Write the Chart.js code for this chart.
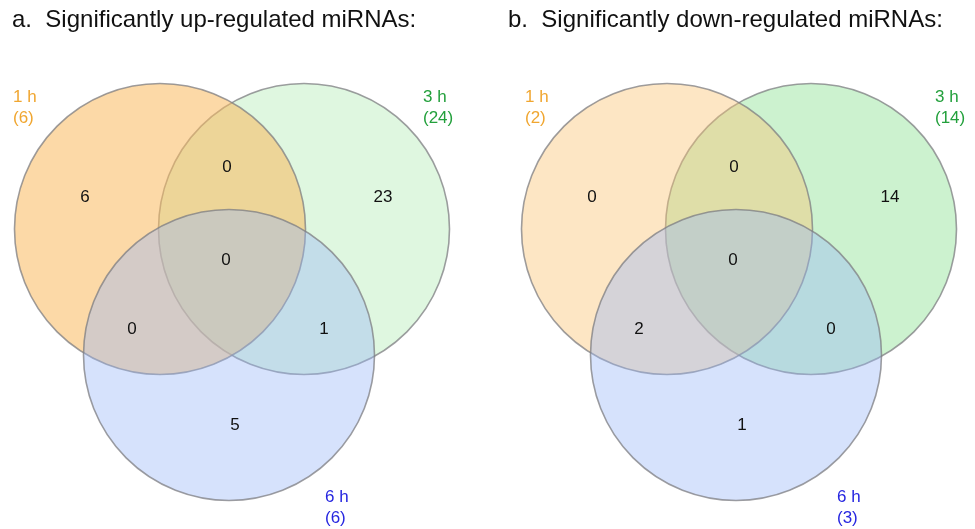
<!DOCTYPE html>
<html>
<head>
<meta charset="utf-8">
<title>Significantly regulated miRNAs</title>
<script src="https://cdn.jsdelivr.net/npm/chart.js@4"></script>
<style>
  html, body { margin: 0; padding: 0; background: #ffffff; }
  #wrap { position: relative; width: 975px; height: 529px; }
</style>
</head>
<body>
<div id="wrap"><canvas id="venn"></canvas></div>
<script>
// Time points compared in both panels
const setNames = ['1 h', '3 h', '6 h'];

// Total miRNAs per time point
const upTotals = [6, 24, 6];
const downTotals = [2, 14, 3];

// Venn regions, in the order their counts are listed
const regionNames = ['1 h only', '1 h & 3 h', '3 h only', '1 h & 3 h & 6 h', '1 h & 6 h', '3 h & 6 h', '6 h only'];
const upCounts = [6, 0, 23, 0, 0, 1, 5];
const downCounts = [0, 0, 14, 0, 2, 0, 1];

// Panel headings
const panelTitles = ['a.  Significantly up-regulated miRNAs:', 'b.  Significantly down-regulated miRNAs:'];

// ---- layout (plot units equal CSS pixels on a 975 x 529 frame) ----
const W = 975, H = 529;
const R = 145.5;
const circleCenters = [[160, 229], [304, 229], [229, 355]];
const drawOrder = [1, 0, 2];            // 3 h first, then 1 h, then 6 h on top
const regionSpots = [[85, 197], [227, 167], [383, 197], [226, 260], [132, 329], [324, 329], [235, 425]];
const setLabelSpots = [[13, 97], [423, 97], [325, 497]];
const panelShift = [0, 507];
const labelShift = [0, 512];
const titleSpots = [[12, 27], [508, 27]];

const setLineColors = ['#f0a630', '#23a03c', '#2626e0'];
// translucent fills per panel, indexed like setNames
const fills = [
  ['rgba(250,186,95,0.55)', 'rgba(127,223,131,0.25)', 'rgba(152,182,247,0.40)'],
  ['rgba(250,195,115,0.42)', 'rgba(128,222,135,0.40)', 'rgba(152,182,247,0.40)']
];
const strokeColor = 'rgba(125,125,130,0.75)';
const FONT = '"Liberation Sans", Arial, Helvetica, sans-serif';

function circleData(p) {
  return drawOrder.map(i => ({ x: circleCenters[i][0] + panelShift[p], y: circleCenters[i][1], r: 1 }));
}

const panels = [
  { totals: upTotals, counts: upCounts },
  { totals: downTotals, counts: downCounts }
];

// Titles, set names with totals, and region counts
const vennText = {
  id: 'vennText',
  afterDatasetsDraw(chart) {
    const { ctx, scales: { x, y } } = chart;
    ctx.save();
    ctx.textBaseline = 'alphabetic';
    panelTitles.forEach((t, p) => {
      ctx.font = '24px ' + FONT;
      ctx.fillStyle = '#111111';
      ctx.textAlign = 'left';
      ctx.fillText(t, x.getPixelForValue(titleSpots[p][0]), y.getPixelForValue(titleSpots[p][1]));
    });
    ctx.textBaseline = 'middle';
    panels.forEach((panel, p) => {
      ctx.font = '17px ' + FONT;
      setNames.forEach((name, i) => {
        const [lx, ly] = setLabelSpots[i];
        ctx.fillStyle = setLineColors[i];
        ctx.textAlign = 'left';
        const px = x.getPixelForValue(lx + labelShift[p]);
        ctx.fillText(name, px, y.getPixelForValue(ly));
        ctx.fillText('(' + panel.totals[i] + ')', px, y.getPixelForValue(ly + 21));
      });
      ctx.fillStyle = '#111111';
      ctx.textAlign = 'center';
      panel.counts.forEach((c, k) => {
        const [rx, ry] = regionSpots[k];
        ctx.fillText(String(c), x.getPixelForValue(rx + panelShift[p]), y.getPixelForValue(ry));
      });
    });
    ctx.restore();
  }
};

const chart = new Chart(document.getElementById('venn'), {
  type: 'bubble',
  data: {
    datasets: panels.map((panel, p) => ({
      label: panelTitles[p],
      data: circleData(p),
      backgroundColor: drawOrder.map(i => fills[p][i]),
      borderColor: strokeColor,
      borderWidth: 1.6,
      hoverRadius: 0,
      clip: false
    }))
  },
  options: {
    responsive: true,
    maintainAspectRatio: false,
    animation: false,
    events: [],
    layout: { padding: 0, autoPadding: false },
    scales: {
      x: { type: 'linear', min: 0, max: W, display: false },
      y: { type: 'linear', min: 0, max: H, reverse: true, display: false }
    },
    plugins: {
      legend: { display: false },
      title: { display: false },
      tooltip: { enabled: false }
    }
  },
  plugins: [vennText]
});

// Bubble radius is in pixels: convert the circle radius through the x scale
function applyRadius() {
  const s = chart.scales.x;
  const rPx = Math.abs(s.getPixelForValue(R) - s.getPixelForValue(0));
  chart.data.datasets.forEach(ds => ds.data.forEach(pt => { pt.r = rPx; }));
  chart.update('none');
}
applyRadius();
</script>
</body>
</html>
